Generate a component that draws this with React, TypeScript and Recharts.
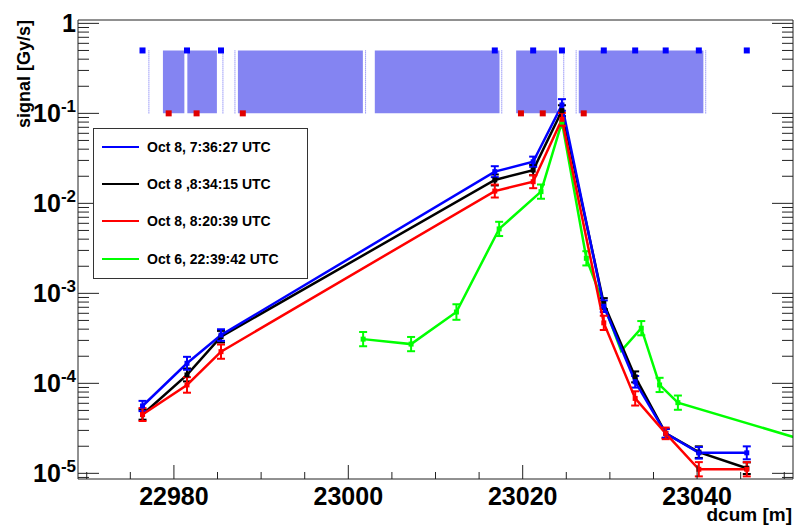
import React from 'react';
import {
  ComposedChart,
  Line,
  Scatter,
  XAxis,
  YAxis,
  ErrorBar,
  ReferenceArea,
  ReferenceLine,
} from 'recharts';

const FONT = '"Liberation Sans", Arial, Helvetica, sans-serif';

// dcum positions (m) of the Oct 8 scans
const dcumOct8 = [22976.4, 22981.5, 22985.4, 23016.8, 23021.2, 23024.5, 23029.3, 23032.9, 23036.4, 23040.2, 23045.7];
const blueSignal = [5.6e-5, 1.67e-4, 3.44e-4, 0.0225, 0.029, 0.124, 7.2e-4, 1.04e-4, 2.78e-5, 1.69e-5, 1.69e-5];
const blackSignal = [4.5e-5, 1.24e-4, 3.3e-4, 0.0182, 0.0234, 0.107, 7.7e-4, 1.18e-4, 2.78e-5, 1.72e-5, 1.14e-5];
const redSignal = [4.5e-5, 9.6e-5, 2.25e-4, 0.0137, 0.0174, 0.0858, 4.7e-4, 6.8e-5, 2.78e-5, 1.11e-5, 1.11e-5];

// Oct 6 scan
const dcumOct6 = [23001.7, 23007.2, 23012.4, 23017.3, 23022.1, 23024.5, 23027.3, 23031.3, 23033.6, 23035.7, 23037.8, 23055];
const greenSignal = [3.1e-4, 2.73e-4, 6.2e-4, 5.2e-3, 0.0135, 0.08, 2.45e-3, 2.3e-4, 4.1e-4, 9.6e-5, 6.1e-5, 1.95e-5];

// error bars as multiplicative factors (up = value*f, down = value/f); 0 = no marker
const blueErr = [1.14, 1.18, 1.16, 1.15, 1.14, 1.16, 1.16, 1.16, 1.12, 1.16, 1.18];
const blackErr = [1.14, 1.18, 1.16, 1.15, 1.14, 1.15, 1.15, 1.15, 1.12, 1.16, 1.16];
const redErr = [1.18, 1.22, 1.2, 1.18, 1.18, 1.18, 1.2, 1.2, 1.16, 1.2, 1.2];
const greenErr = [1.2, 1.2, 1.22, 1.2, 1.2, 1.15, 1.2, 0, 1.2, 1.2, 1.2, 1.2];

// markers along the top band
const blueMarkX = [22976.4, 22981.5, 22985.4, 23016.8, 23021.2, 23024.5, 23029.3, 23032.9, 23036.4, 23040.2, 23045.7];
const redMarkX = [22979.4, 22982.6, 22987.9, 23019.8, 23022.3, 23027.0];

// hatched bands (dcum from / to) and dotted edges
const bandFrom = [22978.74, 22981.54, 22987.34, 23003.04, 23019.25, 23026.43];
const bandTo = [22981.2, 22984.93, 23001.67, 23017.34, 23023.95, 23040.72];
const bandEdges = [22977.13, 22985.62, 22987.0, 23001.98, 23017.6, 23024.71, 23026.13, 23040.99];
const BAND_LOW = 0.1;
const BAND_HIGH = 0.5;

const X_DOMAIN: [number, number] = [22969, 23051];
const Y_DOMAIN: [number, number] = [8.65e-6, 1.09];

const xMajor = [22980, 23000, 23020, 23040];
const xTicks: number[] = [];
for (let v = 22970; v <= 23050; v += 5) xTicks.push(v);

const yMajor = [1e-5, 1e-4, 1e-3, 1e-2, 1e-1, 1];
const yTicks: number[] = [...yMajor];
for (const d of [1e-6, 1e-5, 1e-4, 1e-3, 1e-2, 1e-1]) {
  for (let k = 2; k <= 9; k++) {
    const v = +(k * d).toPrecision(3);
    if (v >= Y_DOMAIN[0] && v <= Y_DOMAIN[1]) yTicks.push(v);
  }
}
const isYMajor = (v: number) => yMajor.some((m) => Math.abs(v - m) / m < 1e-6);

const series = [
  { name: 'Oct 8, 7:36:27 UTC', color: '#0000ff', x: dcumOct8, y: blueSignal, err: blueErr },
  { name: 'Oct 8 ,8:34:15 UTC', color: '#000000', x: dcumOct8, y: blackSignal, err: blackErr },
  { name: 'Oct 8, 8:20:39 UTC', color: '#ff0000', x: dcumOct8, y: redSignal, err: redErr },
  { name: 'Oct 6, 22:39:42 UTC', color: '#00ff00', x: dcumOct6, y: greenSignal, err: greenErr },
];

const rowsOf = (s: (typeof series)[number]) =>
  s.x.map((x, i) => {
    const f = s.err[i];
    return {
      x,
      y: s.y[i],
      marked: f > 0,
      err: f > 0 ? [s.y[i] - s.y[i] / f, s.y[i] * f - s.y[i]] : null,
    };
  });

const drawOrder = [3, 1, 0, 2];

const square = (color: string, size: number) => (p: any) => {
  if (p.cx == null || p.cy == null || p.payload?.marked === false) return <g key={`sq-${p.index}`} />;
  return (
    <rect
      key={`sq-${p.index}`}
      x={p.cx - size / 2}
      y={p.cy - size / 2}
      width={size}
      height={size}
      fill={color}
    />
  );
};

const AXIS = '#222';

const BottomTick = ({ x, y, payload }: any) => {
  const major = xMajor.includes(payload.value);
  return (
    <g>
      <line x1={x} x2={x} y1={y} y2={y - (major ? 14 : 7)} stroke={AXIS} />
      {major && (
        <text x={x} y={y + 26} textAnchor="middle" fontFamily={FONT} fontWeight="bold" fontSize={25} fill="#000">
          {payload.value}
        </text>
      )}
    </g>
  );
};

const TopTick = ({ x, y, payload }: any) => {
  const major = xMajor.includes(payload.value);
  return <line x1={x} x2={x} y1={y} y2={y + (major ? 14 : 7)} stroke={AXIS} />;
};

const LeftTick = ({ x, y, payload }: any) => {
  const major = isYMajor(payload.value);
  const exp = Math.round(Math.log10(payload.value));
  return (
    <g>
      <line x1={x} x2={x + (major ? 21 : 11)} y1={y} y2={y} stroke={AXIS} />
      {major && (
        <text x={x - 2} y={y + 9} textAnchor="end" fontFamily={FONT} fontWeight="bold" fontSize={25} fill="#000">
          {exp === 0 ? (
            '1'
          ) : (
            <>
              <tspan>10</tspan>
              <tspan dy={-10} fontSize={17}>{exp}</tspan>
            </>
          )}
        </text>
      )}
    </g>
  );
};

const RightTick = ({ x, y, payload }: any) => {
  const major = isYMajor(payload.value);
  return <line x1={x} x2={x - (major ? 21 : 11)} y1={y} y2={y} stroke={AXIS} />;
};

const YTitle = ({ viewBox }: any) => (
  <text
    transform={`translate(${viewBox.x + 30}, ${viewBox.y}) rotate(-90)`}
    textAnchor="end"
    fontFamily={FONT}
    fontWeight="bold"
    fontSize={18}
    fill="#000"
  >
    signal [Gy/s]
  </text>
);

const XTitle = ({ viewBox }: any) => (
  <text
    x={viewBox.x + viewBox.width - 1}
    y={viewBox.y + 42}
    textAnchor="end"
    fontFamily={FONT}
    fontWeight="bold"
    fontSize={19}
    fill="#000"
  >
    dcum [m]
  </text>
);

function LegendBox() {
  return (
    <div
      style={{
        position: 'absolute',
        left: 93,
        top: 128,
        width: 213,
        height: 149,
        border: '1px solid #333',
        background: '#fff',
        fontFamily: FONT,
        fontWeight: 'bold',
        fontSize: 14,
      }}
    >
      {series.map((s, i) => (
        <div
          key={s.name}
          style={{ position: 'absolute', left: 0, top: 18 + i * 37.2 - 9, height: 18, display: 'flex', alignItems: 'center' }}
        >
          <div style={{ marginLeft: 8, width: 37, height: 2, background: s.color }} />
          <span style={{ marginLeft: 8, whiteSpace: 'nowrap' }}>{s.name}</span>
        </div>
      ))}
    </div>
  );
}

export default function App() {
  const blueMarks = blueMarkX.map((x) => ({ x, y: BAND_HIGH }));
  const redMarks = redMarkX.map((x) => ({ x, y: BAND_LOW }));
  return (
    <div style={{ position: 'absolute', left: 0, top: 0, width: 794, height: 527, background: '#fff' }}>
      <ComposedChart width={794} height={527} margin={{ top: 0, right: 0, bottom: 0, left: 0 }}>
        <XAxis
          dataKey="x"
          type="number"
          domain={X_DOMAIN}
          allowDataOverflow
          ticks={xTicks}
          interval={0}
          height={48}
          tickSize={0}
          tickMargin={0}
          tickLine={false}
          axisLine={{ stroke: AXIS }}
          tick={BottomTick}
          label={XTitle}
        />
        <XAxis
          xAxisId="top"
          orientation="top"
          type="number"
          domain={X_DOMAIN}
          allowDataOverflow
          ticks={xTicks}
          interval={0}
          height={20}
          tickSize={0}
          tickMargin={0}
          tickLine={false}
          axisLine={{ stroke: AXIS }}
          tick={TopTick}
        />
        <YAxis
          dataKey="y"
          type="number"
          scale="log"
          domain={Y_DOMAIN}
          allowDataOverflow
          ticks={yTicks}
          interval={0}
          width={78}
          tickSize={0}
          tickMargin={0}
          tickLine={false}
          axisLine={{ stroke: AXIS }}
          tick={LeftTick}
          label={YTitle}
        />
        <YAxis
          yAxisId="right"
          orientation="right"
          type="number"
          scale="log"
          domain={Y_DOMAIN}
          allowDataOverflow
          ticks={yTicks}
          interval={0}
          width={1}
          tickSize={0}
          tickMargin={0}
          tickLine={false}
          axisLine={{ stroke: AXIS }}
          tick={RightTick}
        />

        {bandFrom.map((x1, i) => (
          <ReferenceArea
            key={`band-${i}`}
            x1={x1}
            x2={bandTo[i]}
            y1={BAND_LOW}
            y2={BAND_HIGH}
            fill="#8484f2"
            fillOpacity={1}
            stroke="none"
          />
        ))}
        {bandEdges.map((x, i) => (
          <ReferenceLine
            key={`edge-${i}`}
            segment={[
              { x, y: BAND_LOW },
              { x, y: BAND_HIGH },
            ]}
            stroke="#6a6af4"
            strokeDasharray="1 1"
          />
        ))}

        {drawOrder.map((idx) => {
          const s = series[idx];
          return (
            <Line
              key={s.name}
              data={rowsOf(s)}
              dataKey="y"
              name={s.name}
              type="linear"
              stroke={s.color}
              strokeWidth={2.5}
              dot={square(s.color, 5)}
              activeDot={false}
              isAnimationActive={false}
              legendType="none"
            >
              <ErrorBar dataKey="err" direction="y" stroke={s.color} strokeWidth={2} width={4} />
            </Line>
          );
        })}

        <Scatter data={blueMarks} dataKey="y" shape={square('#0000ff', 6)} isAnimationActive={false} legendType="none" />
        <Scatter data={redMarks} dataKey="y" shape={square('#e00000', 6)} isAnimationActive={false} legendType="none" />
      </ComposedChart>
      <LegendBox />
    </div>
  );
}
